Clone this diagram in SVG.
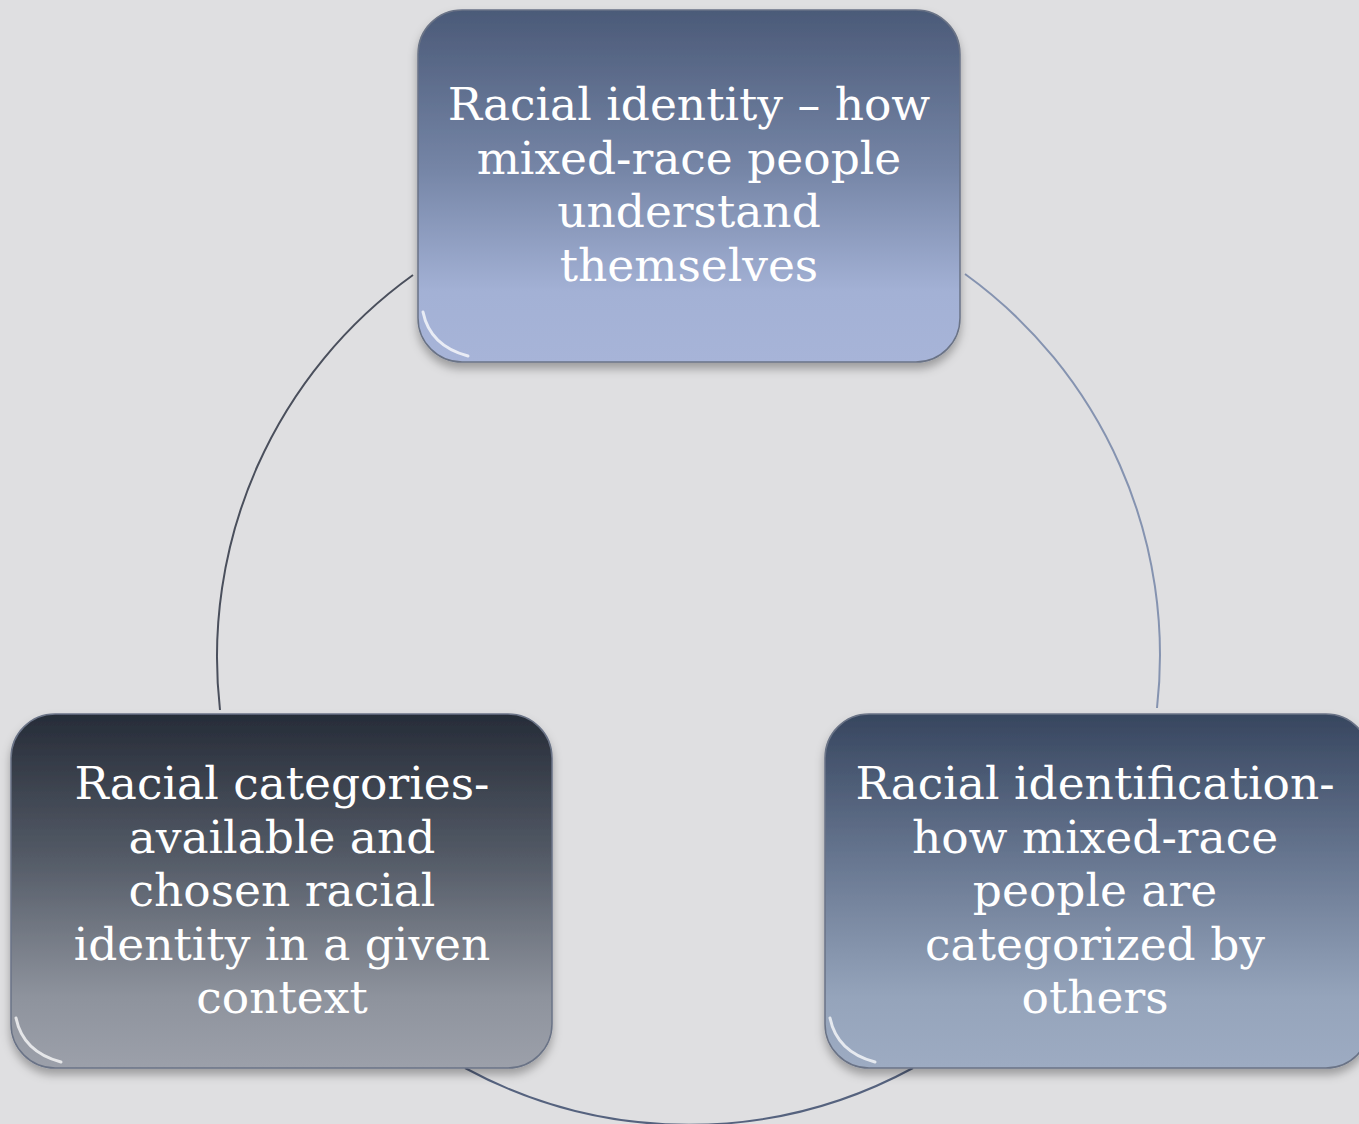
<svg xmlns="http://www.w3.org/2000/svg" width="1359" height="1124" viewBox="0 0 1359 1124">
<style>
.lbl{font-family:"DejaVu Serif","Liberation Serif",serif;font-size:45.5px;fill:#ffffff;text-anchor:middle}
.conn{fill:none;stroke-width:2}
.box{stroke:#6a7386;stroke-width:1.5}
.hl{fill:none;stroke:#ffffff;stroke-opacity:0.75;stroke-width:3;stroke-linecap:round}
</style>
<defs>
<linearGradient id="gTop" x1="0" y1="0" x2="0" y2="1">
<stop offset="0" stop-color="#4b5a78"/><stop offset="0.45" stop-color="#7585a6"/><stop offset="0.8" stop-color="#a3b1d5"/><stop offset="1" stop-color="#a7b4d8"/>
</linearGradient>
<linearGradient id="gLeft" x1="0" y1="0" x2="0" y2="1">
<stop offset="0" stop-color="#262c38"/><stop offset="0.4" stop-color="#535a66"/><stop offset="0.8" stop-color="#8e939d"/><stop offset="1" stop-color="#9ca0aa"/>
</linearGradient>
<linearGradient id="gRight" x1="0" y1="0" x2="0" y2="1">
<stop offset="0" stop-color="#37465f"/><stop offset="0.4" stop-color="#66758f"/><stop offset="0.8" stop-color="#95a4bb"/><stop offset="1" stop-color="#9dabc2"/>
</linearGradient>
<filter id="sh" x="-10%" y="-10%" width="120%" height="125%">
<feDropShadow dx="0" dy="6" stdDeviation="5" flood-color="#000" flood-opacity="0.3"/>
</filter>
</defs>
<rect width="1359" height="1124" fill="#dfdfe1"/>
<g id="connectors">
<path class="conn" stroke="#4a4f5c" d="M 413 275 A 470 470 0 0 0 220 710"/>
<path class="conn" stroke="#8593b0" d="M 965 274 A 470 470 0 0 1 1157 708"/>
<path class="conn" stroke="#55627e" d="M 465 1068 A 470 470 0 0 0 913 1068"/>
</g>
<g id="node-top">
<rect class="box" x="418" y="10" width="542" height="352" rx="44" fill="url(#gTop)" filter="url(#sh)"/>
<path class="hl" d="M 423 312 Q 430 346 468 356"/>
<text class="lbl"><tspan x="689" y="120">Racial identity – how</tspan><tspan x="689" y="174">mixed-race people</tspan><tspan x="689" y="227">understand</tspan><tspan x="689" y="281">themselves</tspan></text>
</g>
<g id="node-left">
<rect class="box" x="11" y="714" width="541" height="354" rx="44" fill="url(#gLeft)" filter="url(#sh)"/>
<path class="hl" d="M 16 1018 Q 23 1052 61 1062"/>
<text class="lbl"><tspan x="282" y="799">Racial categories-</tspan><tspan x="282" y="853">available and</tspan><tspan x="282" y="906">chosen racial</tspan><tspan x="282" y="960">identity in a given</tspan><tspan x="282" y="1013">context</tspan></text>
</g>
<g id="node-right">
<rect class="box" x="825" y="714" width="545" height="354" rx="44" fill="url(#gRight)" filter="url(#sh)"/>
<path class="hl" d="M 830 1018 Q 837 1052 875 1062"/>
<text class="lbl"><tspan x="1095" y="799">Racial identification-</tspan><tspan x="1095" y="853">how mixed-race</tspan><tspan x="1095" y="906">people are</tspan><tspan x="1095" y="960">categorized by</tspan><tspan x="1095" y="1013">others</tspan></text>
</g>
</svg>
